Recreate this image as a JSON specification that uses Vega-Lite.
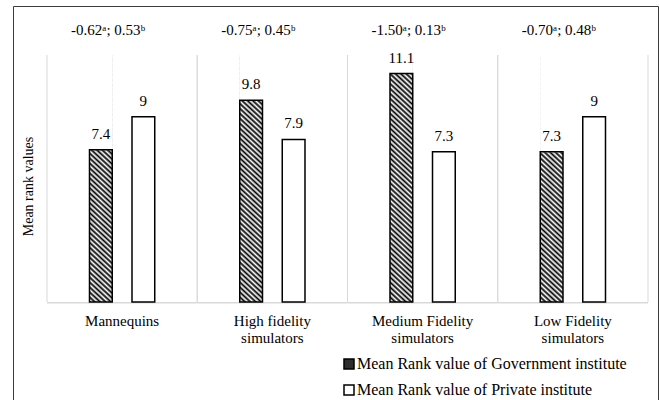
{
  "$schema": "https://vega.github.io/schema/vega-lite/v6.json",
  "width": 645,
  "height": 395,
  "autosize": {"type": "none"},
  "padding": {"left": 13, "top": 6, "right": 1, "bottom": -1},
  "background": "#ffffff",
  "datasets": {
    "bars": [
      {"category": "Mannequins", "series": "Mean Rank value of Government institute", "value": 7.4},
      {"category": "Mannequins", "series": "Mean Rank value of Private institute", "value": 9},
      {"category": "High fidelity simulators", "series": "Mean Rank value of Government institute", "value": 9.8},
      {"category": "High fidelity simulators", "series": "Mean Rank value of Private institute", "value": 7.9},
      {"category": "Medium Fidelity simulators", "series": "Mean Rank value of Government institute", "value": 11.1},
      {"category": "Medium Fidelity simulators", "series": "Mean Rank value of Private institute", "value": 7.3},
      {"category": "Low Fidelity simulators", "series": "Mean Rank value of Government institute", "value": 7.3},
      {"category": "Low Fidelity simulators", "series": "Mean Rank value of Private institute", "value": 9}
    ],
    "notes": [
      {"category": "Mannequins", "note": "-0.62ᵃ; 0.53ᵇ"},
      {"category": "High fidelity simulators", "note": "-0.75ᵃ; 0.45ᵇ"},
      {"category": "Medium Fidelity simulators", "note": "-1.50ᵃ; 0.13ᵇ"},
      {"category": "Low Fidelity simulators", "note": "-0.70ᵃ; 0.48ᵇ"}
    ]
  },
  "layer": [
    {
      "data": {"name": "bars"},
      "mark": {"type": "bar"},
      "encoding": {
        "x": {"field": "category", "type": "nominal",
          "scale": {"domain": ["Mannequins", "High fidelity simulators", "Medium Fidelity simulators", "Low Fidelity simulators"], "paddingInner": 0, "paddingOuter": 0.1464, "align": 0.7727},
          "axis": {"orient": "bottom", "offset": -88, "labelPadding": 0, "ticks": false, "domain": false, "grid": false, "title": null,
            "labelFont": "Liberation Serif, Times New Roman, serif", "labelFontSize": 15, "labelColor": "#000", "labelBaseline": "top", "labelLineHeight": 17, "labelAngle": 0, "labelLimit": 300, "labelOverlap": false,
            "labelExpr": "datum.label == 'Mannequins' ? datum.label : [slice(datum.label, 0, -11), 'simulators']"}},
        "xOffset": {"field": "series", "type": "nominal", "scale": {"paddingInner": 0.465, "paddingOuter": 1.1465}},
        "y": {"datum": 12, "type": "quantitative",
          "scale": {"domain": [-4.81, 14.381], "nice": false, "zero": false},
          "axis": {"title": "Mean rank values", "labels": false, "ticks": false, "domain": false, "grid": false,
            "titleX": 15, "titleY": 180, "titleAngle": -90, "titleAlign": "center", "titleBaseline": "middle",
            "titleFont": "Liberation Serif, Times New Roman, serif", "titleFontSize": 14, "titleFontWeight": "normal", "titleColor": "#000"}},
        "y2": {"datum": 0},
        "fill": {
          "field": "series", "type": "nominal",
          "scale": {"range": ["#2e2e2e", "#ffffff"]},
          "legend": {
            "orient": "none", "legendX": 328, "legendY": 350, "title": null, "padding": 0,
            "symbolType": "square", "symbolSize": 100, "symbolStrokeColor": "#000", "symbolStrokeWidth": 1.5,
            "labelFont": "Liberation Serif, Times New Roman, serif", "labelFontSize": 16, "labelLimit": 400, "labelOffset": 0, "rowPadding": 10, "labelColor": "#000"
          }
        }
      }
    },
    {
      "data": {"name": "notes"},
      "mark": {"type": "rule", "color": "#d9d9d9", "strokeWidth": 1},
      "encoding": {
        "x": {"field": "category", "type": "nominal", "bandPosition": 0},
        "y": {"datum": 0, "type": "quantitative"},
        "y2": {"datum": 12}
      }
    },
    {
      "data": {"name": "notes"},
      "mark": {"type": "rule", "color": "#d9d9d9", "strokeWidth": 1},
      "encoding": {
        "x": {"field": "category", "type": "nominal", "bandPosition": 1},
        "y": {"datum": 0, "type": "quantitative"},
        "y2": {"datum": 12}
      }
    },
    {
      "data": {"name": "notes"},
      "mark": {"type": "bar", "color": "#d9d9d9"},
      "encoding": {
        "x": {"field": "category", "type": "nominal"},
        "y": {"datum": 0, "type": "quantitative"},
        "y2": {"datum": -0.07}
      }
    },
    {
      "data": {"name": "bars"},
      "transform": [{"filter": "indexof(datum.series, 'Government') >= 0"}],
      "mark": {"type": "bar",
        "fill": {"gradient": "linear", "x1": 0, "y1": 1, "x2": 0.0916, "y2": -0.0772, "stops": [
              {"offset": 0, "color": "#000"}, {"offset": 0.00926, "color": "#fff"},
              {"offset": 0.01852, "color": "#000"}, {"offset": 0.02778, "color": "#fff"},
              {"offset": 0.03704, "color": "#000"}, {"offset": 0.0463, "color": "#fff"},
              {"offset": 0.05556, "color": "#000"}, {"offset": 0.06481, "color": "#fff"},
              {"offset": 0.07407, "color": "#000"}, {"offset": 0.08333, "color": "#fff"},
              {"offset": 0.09259, "color": "#000"}, {"offset": 0.10185, "color": "#fff"},
              {"offset": 0.11111, "color": "#000"}, {"offset": 0.12037, "color": "#fff"},
              {"offset": 0.12963, "color": "#000"}, {"offset": 0.13889, "color": "#fff"},
              {"offset": 0.14815, "color": "#000"}, {"offset": 0.15741, "color": "#fff"},
              {"offset": 0.16667, "color": "#000"}, {"offset": 0.17593, "color": "#fff"},
              {"offset": 0.18519, "color": "#000"}, {"offset": 0.19444, "color": "#fff"},
              {"offset": 0.2037, "color": "#000"}, {"offset": 0.21296, "color": "#fff"},
              {"offset": 0.22222, "color": "#000"}, {"offset": 0.23148, "color": "#fff"},
              {"offset": 0.24074, "color": "#000"}, {"offset": 0.25, "color": "#fff"},
              {"offset": 0.25926, "color": "#000"}, {"offset": 0.26852, "color": "#fff"},
              {"offset": 0.27778, "color": "#000"}, {"offset": 0.28704, "color": "#fff"},
              {"offset": 0.2963, "color": "#000"}, {"offset": 0.30556, "color": "#fff"},
              {"offset": 0.31481, "color": "#000"}, {"offset": 0.32407, "color": "#fff"},
              {"offset": 0.33333, "color": "#000"}, {"offset": 0.34259, "color": "#fff"},
              {"offset": 0.35185, "color": "#000"}, {"offset": 0.36111, "color": "#fff"},
              {"offset": 0.37037, "color": "#000"}, {"offset": 0.37963, "color": "#fff"},
              {"offset": 0.38889, "color": "#000"}, {"offset": 0.39815, "color": "#fff"},
              {"offset": 0.40741, "color": "#000"}, {"offset": 0.41667, "color": "#fff"},
              {"offset": 0.42593, "color": "#000"}, {"offset": 0.43519, "color": "#fff"},
              {"offset": 0.44444, "color": "#000"}, {"offset": 0.4537, "color": "#fff"},
              {"offset": 0.46296, "color": "#000"}, {"offset": 0.47222, "color": "#fff"},
              {"offset": 0.48148, "color": "#000"}, {"offset": 0.49074, "color": "#fff"},
              {"offset": 0.5, "color": "#000"}, {"offset": 0.50926, "color": "#fff"},
              {"offset": 0.51852, "color": "#000"}, {"offset": 0.52778, "color": "#fff"},
              {"offset": 0.53704, "color": "#000"}, {"offset": 0.5463, "color": "#fff"},
              {"offset": 0.55556, "color": "#000"}, {"offset": 0.56481, "color": "#fff"},
              {"offset": 0.57407, "color": "#000"}, {"offset": 0.58333, "color": "#fff"},
              {"offset": 0.59259, "color": "#000"}, {"offset": 0.60185, "color": "#fff"},
              {"offset": 0.61111, "color": "#000"}, {"offset": 0.62037, "color": "#fff"},
              {"offset": 0.62963, "color": "#000"}, {"offset": 0.63889, "color": "#fff"},
              {"offset": 0.64815, "color": "#000"}, {"offset": 0.65741, "color": "#fff"},
              {"offset": 0.66667, "color": "#000"}, {"offset": 0.67593, "color": "#fff"},
              {"offset": 0.68519, "color": "#000"}, {"offset": 0.69444, "color": "#fff"},
              {"offset": 0.7037, "color": "#000"}, {"offset": 0.71296, "color": "#fff"},
              {"offset": 0.72222, "color": "#000"}, {"offset": 0.73148, "color": "#fff"},
              {"offset": 0.74074, "color": "#000"}, {"offset": 0.75, "color": "#fff"},
              {"offset": 0.75926, "color": "#000"}, {"offset": 0.76852, "color": "#fff"},
              {"offset": 0.77778, "color": "#000"}, {"offset": 0.78704, "color": "#fff"},
              {"offset": 0.7963, "color": "#000"}, {"offset": 0.80556, "color": "#fff"},
              {"offset": 0.81481, "color": "#000"}, {"offset": 0.82407, "color": "#fff"},
              {"offset": 0.83333, "color": "#000"}, {"offset": 0.84259, "color": "#fff"},
              {"offset": 0.85185, "color": "#000"}, {"offset": 0.86111, "color": "#fff"},
              {"offset": 0.87037, "color": "#000"}, {"offset": 0.87963, "color": "#fff"},
              {"offset": 0.88889, "color": "#000"}, {"offset": 0.89815, "color": "#fff"},
              {"offset": 0.90741, "color": "#000"}, {"offset": 0.91667, "color": "#fff"},
              {"offset": 0.92593, "color": "#000"}, {"offset": 0.93519, "color": "#fff"},
              {"offset": 0.94444, "color": "#000"}, {"offset": 0.9537, "color": "#fff"},
              {"offset": 0.96296, "color": "#000"}, {"offset": 0.97222, "color": "#fff"},
              {"offset": 0.98148, "color": "#000"}, {"offset": 0.99074, "color": "#fff"},
              {"offset": 1, "color": "#000"}
            ]}},
      "encoding": {
        "x": {"field": "category", "type": "nominal"},
        "xOffset": {"field": "series", "type": "nominal"},
        "y": {"datum": 12, "type": "quantitative"},
        "y2": {"datum": 0}
      }
    },
    {
      "data": {"name": "bars"},
      "mark": {"type": "bar", "fill": "#ffffff", "stroke": "#ffffff", "strokeWidth": 1},
      "encoding": {
        "x": {"field": "category", "type": "nominal"},
        "xOffset": {"field": "series", "type": "nominal"},
        "y": {"field": "value", "type": "quantitative"},
        "y2": {"datum": 12}
      }
    },
    {
      "data": {"name": "bars"},
      "mark": {"type": "bar", "fillOpacity": 0, "stroke": "#000", "strokeWidth": 1.5},
      "encoding": {
        "x": {"field": "category", "type": "nominal"},
        "xOffset": {"field": "series", "type": "nominal"},
        "y": {"field": "value", "type": "quantitative"},
        "y2": {"datum": 0}
      }
    },
    {
      "data": {"name": "bars"},
      "mark": {"type": "text", "baseline": "alphabetic", "dy": -11, "fontSize": 15, "color": "#000", "font": "Liberation Serif, Times New Roman, serif"},
      "encoding": {
        "x": {"field": "category", "type": "nominal"},
        "xOffset": {"field": "series", "type": "nominal"},
        "y": {"field": "value", "type": "quantitative"},
        "text": {"field": "value", "type": "nominal"}
      }
    },
    {
      "data": {"name": "notes"},
      "mark": {"type": "text", "baseline": "alphabetic", "dx": -14, "fontSize": 15, "color": "#000", "font": "Liberation Serif, Times New Roman, serif"},
      "encoding": {
        "x": {"field": "category", "type": "nominal"},
        "y": {"datum": 12.97, "type": "quantitative"},
        "text": {"field": "note", "type": "nominal"}
      }
    }
  ],
  "config": {
    "font": "Liberation Serif, Times New Roman, serif",
    "view": {"stroke": "#3c3c3c", "strokeWidth": 1}
  }
}
